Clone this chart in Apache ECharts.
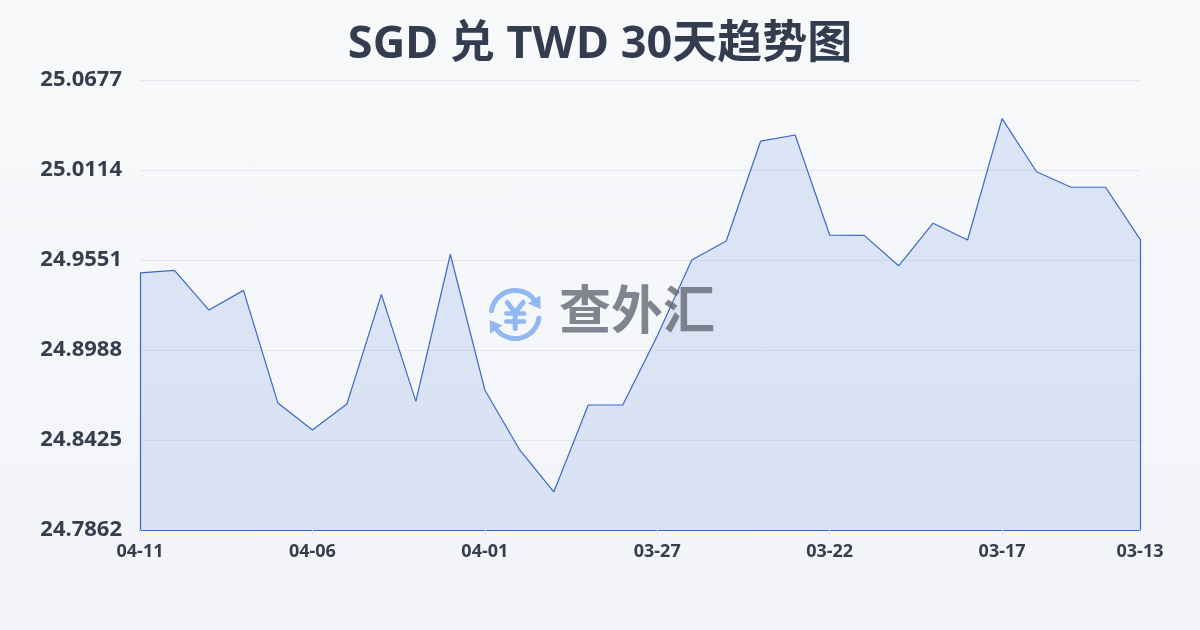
<!DOCTYPE html>
<html><head><meta charset="utf-8">
<script src="https://cdn.jsdelivr.net/npm/echarts@6/dist/echarts.min.js"></script>
<style>html,body{margin:0;padding:0;}#c{width:1200px;height:630px;background:linear-gradient(180deg,#f8f9fb 0%,#f2f4f7 100%);}</style>
</head><body><div id="c"></div>
<script>
const titleText = 'SGD 兑 TWD 30天趋势图';
const dates = ['04-11','04-10','04-09','04-08','04-07','04-06','04-05','04-04','04-03','04-02','04-01','03-31','03-30','03-29','03-28','03-27','03-26','03-25','03-24','03-23','03-22','03-21','03-20','03-19','03-18','03-17','03-16','03-15','03-14','03-13'];
const rates = [24.9470,24.9486,24.9238,24.9361,24.8656,24.8488,24.8650,24.9336,24.8667,24.9587,24.8738,24.8367,24.8100,24.8644,24.8644,24.9076,24.9551,24.9670,25.0295,25.0333,24.9707,24.9705,24.9515,24.9781,24.9676,25.0435,25.0103,25.0006,25.0006,24.9682];
const yMin = 24.7862, yMax = 25.0677, yStep = 0.0563;
const yTicks = ['24.7862','24.8425','24.8988','24.9551','25.0114','25.0677'];
const watermark = '查外汇';

const chart = echarts.init(document.getElementById('c'), null, {renderer:'canvas'});
const lineColor = '#3a68c9';
const iconColor = '#93b7f3';
chart.setOption({
  backgroundColor: 'transparent',
  animation: false,
  title: {text: titleText, left: 'center', top: 18,
    textStyle: {fontSize: 45, fontWeight: 'bold', color: '#333d4f', fontFamily: '"Noto Sans","Noto Sans CJK SC",sans-serif'}},
  grid: {left: 140, right: 60, top: 80, bottom: 100, containLabel: false},
  xAxis: {type: 'category', data: dates, boundaryGap: false,
    axisLine: {show: true, lineStyle: {color: lineColor, width: 1}},
    axisTick: {show: true, alignWithLabel: true, length: 5, lineStyle: {color: '#e3e6eb'},
      interval: (i) => i % 5 === 0 || i === dates.length - 1},
    axisLabel: {interval: (i) => i % 5 === 0 || i === dates.length - 1, margin: 13,
      fontSize: 18, fontWeight: 'bold', color: '#353e4d', fontFamily: '"Noto Sans",sans-serif'}},
  yAxis: {type: 'value', min: yMin, max: yMax, interval: yStep,
    axisLine: {show: false}, axisTick: {show: false},
    splitLine: {lineStyle: {color: '#e3e6eb', width: 1}},
    axisLabel: {margin: 18, fontSize: 22, fontWeight: 'bold', color: '#353e4d', fontFamily: '"Noto Sans",sans-serif',
      formatter: (v) => yTicks.find(t => Math.abs(parseFloat(t) - v) < 1e-6) || v.toFixed(4)}},
  series: [{
    type: 'line', data: rates, symbol: 'none', smooth: false,
    lineStyle: {color: lineColor, width: 1.2},
    areaStyle: {color: 'rgba(150,180,235,0.4)', origin: 'start'},
    markLine: {silent: true, symbol: 'none', label: {show: false},
      lineStyle: {color: lineColor, width: 1.2, type: 'solid'},
      data: [
        [{coord: [dates[0], yMin]}, {coord: [dates[0], rates[0]]}],
        [{coord: [dates[dates.length-1], yMin]}, {coord: [dates[dates.length-1], rates[rates.length-1]]}]
      ]}
  }],
  graphic: [
    {type: 'group', left: 489, top: 288, z: 100, children: [
      {type: 'arc', shape: {cx: 31, cy: 30, r: 24, startAngle: Math.PI*1.05, endAngle: Math.PI*1.8}, style: {stroke: iconColor, lineWidth: 5, fill: null, lineCap: 'round'}},
      {type: 'arc', shape: {cx: 31, cy: 30, r: 24, startAngle: Math.PI*0.05, endAngle: Math.PI*0.8}, style: {stroke: iconColor, lineWidth: 5, fill: null, lineCap: 'round'}},
      {type: 'polygon', shape: {points: [[56.1,10.8],[56.5,24.4],[43.7,19.0]]}, style: {fill: iconColor}},
      {type: 'polygon', shape: {points: [[5.9,49.2],[5.5,35.6],[18.3,41.0]]}, style: {fill: iconColor}},
      {type: 'polyline', shape: {points: [[23,18],[31,28],[39,18]]}, style: {stroke: iconColor, lineWidth: 5, lineCap: 'round', lineJoin: 'round', fill: null}},
      {type: 'line', shape: {x1: 31, y1: 28, x2: 31, y2: 44}, style: {stroke: iconColor, lineWidth: 5, lineCap: 'round'}},
      {type: 'line', shape: {x1: 22, y1: 29, x2: 40, y2: 29}, style: {stroke: iconColor, lineWidth: 4.5, lineCap: 'round'}},
      {type: 'line', shape: {x1: 22, y1: 37, x2: 40, y2: 37}, style: {stroke: iconColor, lineWidth: 4.5, lineCap: 'round'}}
    ]},
    {type: 'text', left: 559, top: 283, z: 100, style: {text: watermark, fontSize: 52, fontWeight: 'bold', fill: 'rgba(100,104,116,0.8)', fontFamily: '"Noto Sans CJK SC",sans-serif'}}
  ]
});
</script></body></html>
